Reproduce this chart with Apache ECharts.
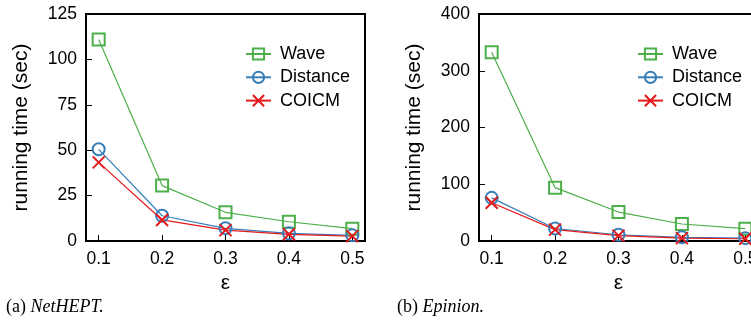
<!DOCTYPE html>
<html>
<head>
<meta charset="utf-8">
<script src="https://cdn.jsdelivr.net/npm/echarts@6/dist/echarts.min.js"></script>
<style>
  html, body { margin: 0; padding: 0; background: #fff; }
  #main { width: 751px; height: 320px; }
</style>
</head>
<body>
<div id="main"></div>
<script>
var myChart = echarts.init(document.getElementById('main'));

// epsilon values on the x axis
var xTicks = [0.1, 0.2, 0.3, 0.4, 0.5];
var seriesNames = ['Wave', 'Distance', 'COICM'];

// (a) NetHEPT, running time in seconds
var netWave = [111, 30.5, 15.8, 10.6, 6.8];
var netDistance = [50.5, 13.9, 7.0, 4.2, 3.1];
var netCoicm = [43.3, 11.6, 6.0, 3.7, 2.7];

// (b) Epinion, running time in seconds
var epiWave = [332.5, 94, 51, 30, 21.7];
var epiDistance = [76, 22, 11, 6.5, 5];
var epiCoicm = [67.5, 20, 9.5, 5, 4];

var font = 'Liberation Sans';
var colors = { Wave: '#4daf4a', Distance: '#377eb8', COICM: '#e41a1c' };
var symbols = { Wave: 'rect', Distance: 'circle', COICM: 'path://M0,0L10,10M10,0L0,10' };

function pairs(values) {
  return xTicks.map(function (x, i) { return [x, values[i]]; });
}

function makeSeries(name, values, idx) {
  return {
    name: name,
    type: 'line',
    xAxisIndex: idx,
    yAxisIndex: idx,
    data: pairs(values),
    symbol: symbols[name],
    symbolSize: 12,
    showSymbol: true,
    color: colors[name],
    lineStyle: { width: 1.2, color: colors[name] },
    itemStyle: { color: 'transparent', borderColor: colors[name], borderWidth: 2 },
    emphasis: { disabled: true }
  };
}

function makeX(idx) {
  return {
    type: 'value',
    gridIndex: idx,
    min: 0.08,
    max: 0.52,
    name: 'ε',
    nameLocation: 'middle',
    nameGap: 21,
    nameTextStyle: { fontFamily: font, fontSize: 21, color: '#000' },
    axisLine: { show: true, onZero: false, lineStyle: { color: '#000', width: 2 } },
    axisTick: { show: true, inside: true, length: 6, customValues: xTicks, lineStyle: { color: '#000', width: 1 } },
    axisLabel: {
      customValues: xTicks,
      margin: 9,
      fontFamily: font, fontSize: 17.5, color: '#000',
      formatter: function (v) { return v.toFixed(1); }
    },
    splitLine: { show: false }
  };
}

function makeY(idx, max, step) {
  return {
    type: 'value',
    gridIndex: idx,
    min: 0,
    max: max,
    interval: step,
    name: 'running time (sec)',
    nameLocation: 'middle',
    nameGap: 54,
    nameMoveOverlap: false,
    nameTextStyle: { fontFamily: font, fontSize: 21, color: '#000' },
    axisLine: { show: true, lineStyle: { color: '#000', width: 2 } },
    axisTick: { show: true, inside: true, length: 6, lineStyle: { color: '#000', width: 1 } },
    axisLabel: { margin: 9, fontFamily: font, fontSize: 17.5, color: '#000' },
    splitLine: { show: false }
  };
}

function makeLegend(left) {
  return {
    data: seriesNames,
    orient: 'vertical',
    left: left,
    top: 45,
    padding: 0,
    itemWidth: 25,
    itemHeight: 14,
    itemGap: 5.3,
    textStyle: { fontFamily: font, fontSize: 18, color: '#000', padding: [0, 0, 0, 4] }
  };
}

var captionRich = {
  r: { fontFamily: 'Liberation Serif', fontSize: 18, fontWeight: 'normal', color: '#000' },
  i: { fontFamily: 'Liberation Serif', fontSize: 18, fontWeight: 'normal', fontStyle: 'italic', color: '#000' }
};

option = {
  animation: false,
  backgroundColor: '#fff',
  title: [
    { text: '{r|(a) }{i|NetHEPT.}', left: 6, top: 298, padding: 0, textStyle: { fontWeight: 'normal', rich: captionRich } },
    { text: '{r|(b) }{i|Epinion.}', left: 397, top: 298, padding: 0, textStyle: { fontWeight: 'normal', rich: captionRich } }
  ],
  legend: [makeLegend(245), makeLegend(637)],
  grid: [
    { left: 86, right: 386, top: 14, bottom: 79, outerBoundsMode: 'none', containLabel: false, show: true, borderColor: '#000', borderWidth: 2 },
    { left: 479, right: -7, top: 14, bottom: 79, outerBoundsMode: 'none', containLabel: false, show: true, borderColor: '#000', borderWidth: 2 }
  ],
  xAxis: [makeX(0), makeX(1)],
  yAxis: [makeY(0, 125, 25), makeY(1, 400, 100)],
  series: [
    makeSeries('Wave', netWave, 0),
    makeSeries('Distance', netDistance, 0),
    makeSeries('COICM', netCoicm, 0),
    makeSeries('Wave', epiWave, 1),
    makeSeries('Distance', epiDistance, 1),
    makeSeries('COICM', epiCoicm, 1)
  ]
};

myChart.setOption(option);
</script>
</body>
</html>
